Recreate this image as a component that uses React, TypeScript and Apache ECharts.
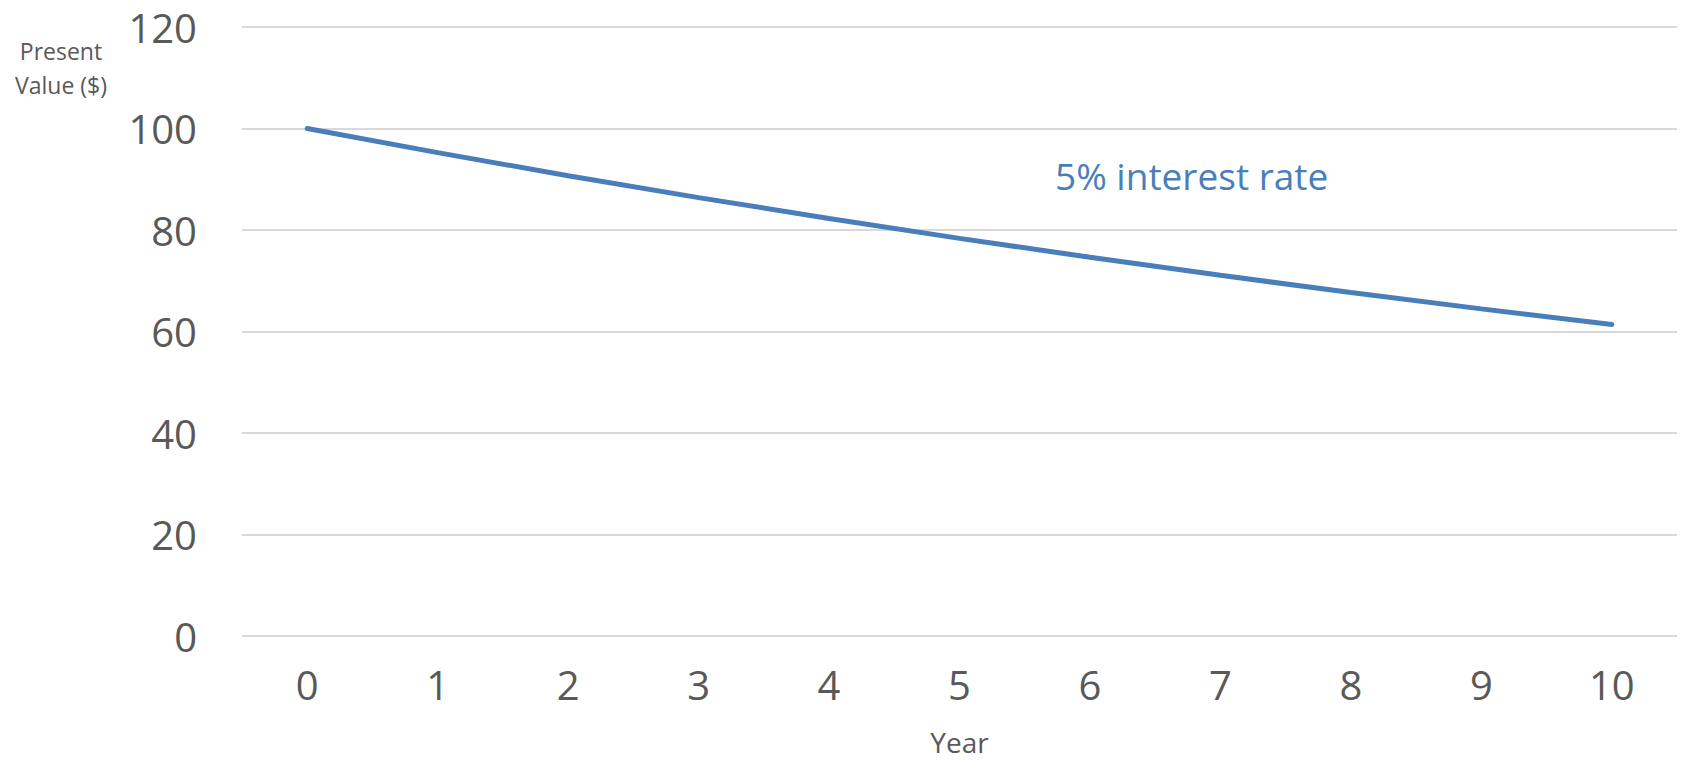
import React, { useEffect, useRef } from "react";
import * as echarts from "echarts";

const years = ["0", "1", "2", "3", "4", "5", "6", "7", "8", "9", "10"];
const presentValue = [100, 95.24, 90.7, 86.38, 82.27, 78.35, 74.62, 71.07, 67.68, 64.46, 61.39];
const yTicks = { min: 0, max: 120, interval: 20 };
const annotation = "5% interest rate";
const yTitle = "Present\nValue ($)";
const xTitle = "Year";

const FONT = "'Open Sans', sans-serif";
const GREY = "#595959";
const BLUE = "#4a7ebb";

export default function App() {
  const ref = useRef<HTMLDivElement>(null);
  useEffect(() => {
    if (!ref.current) return;
    const chart = echarts.init(ref.current, null, { renderer: "svg" });
    chart.setOption({
      animation: false,
      backgroundColor: "#ffffff",
      grid: { left: 242, right: 4, top: 27, bottom: 120, containLabel: false },
      xAxis: {
        type: "category",
        data: years,
        boundaryGap: true,
        name: xTitle,
        nameLocation: "middle",
        nameGap: 92,
        nameTextStyle: { fontFamily: FONT, fontSize: 28, color: GREY },
        axisLine: { show: false },
        axisTick: { show: false },
        axisLabel: { fontFamily: FONT, fontSize: 40, color: GREY, margin: 28 },
        splitLine: { show: false },
      },
      yAxis: {
        type: "value",
        min: yTicks.min,
        max: yTicks.max,
        interval: yTicks.interval,
        axisLine: { show: false },
        axisTick: { show: false },
        axisLabel: { fontFamily: FONT, fontSize: 40, color: GREY, margin: 45 },
        splitLine: { show: true, lineStyle: { color: "#d9d9d9", width: 2 } },
      },
      series: [
        {
          type: "line",
          data: presentValue,
          symbol: "none",
          lineStyle: { color: BLUE, width: 5, cap: "round" },
          itemStyle: { color: BLUE },
        },
      ],
      graphic: [
        {
          type: "text",
          left: 1055,
          top: 157,
          style: { text: annotation, fontFamily: FONT, fontSize: 37, fill: BLUE },
        },
        {
          type: "text",
          x: 61,
          y: 68,
          style: {
            text: yTitle,
            fontFamily: FONT,
            fontSize: 23,
            lineHeight: 34,
            fill: GREY,
            align: "center",
            verticalAlign: "middle",
          },
        },
      ],
    });
    return () => chart.dispose();
  }, []);
  return (
    <div
      ref={ref}
      style={{ position: "absolute", left: 0, top: 0, width: 1681, height: 761 }}
    />
  );
}
